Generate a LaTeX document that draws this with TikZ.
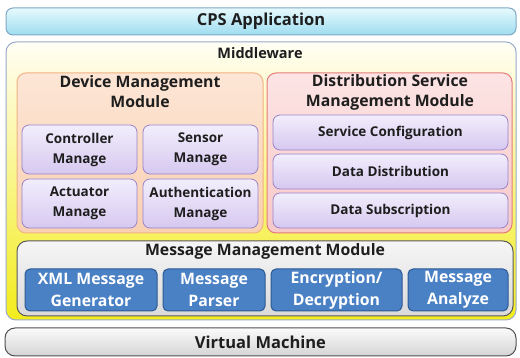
\documentclass[tikz,border=0pt]{standalone}
\usepackage{fontspec}
\setmainfont{Open Sans}
\usetikzlibrary{fit}

\definecolor{txt}{HTML}{1E1E1E}
\definecolor{cpsdraw}{HTML}{7FA8C4}
\definecolor{cpstop}{HTML}{E6F9FD}
\definecolor{cpsbot}{HTML}{9EDDF0}
\definecolor{mwdraw}{HTML}{9AAACA}
\definecolor{mwtop}{HTML}{FFFEF4}
\definecolor{mwbot}{HTML}{F3EC1C}
\definecolor{dmdraw}{HTML}{F0B282}
\definecolor{dmtop}{HTML}{FDE6D6}
\definecolor{dmbot}{HTML}{F9D0B2}
\definecolor{dsdraw}{HTML}{E47C7C}
\definecolor{dstop}{HTML}{FDE4E4}
\definecolor{dsbot}{HTML}{F7C8C8}
\definecolor{subdraw}{HTML}{9A82C8}
\definecolor{subtop}{HTML}{F2EEFC}
\definecolor{subbot}{HTML}{D6C8F0}
\definecolor{mmdraw}{HTML}{5A5A5A}
\definecolor{mmtop}{HTML}{F6F6F6}
\definecolor{mmbot}{HTML}{DADADA}
\definecolor{bludraw}{HTML}{2C5A94}
\definecolor{blufill}{HTML}{4A80C4}
\definecolor{vmdraw}{HTML}{505050}
\definecolor{vmtop}{HTML}{FBFBFB}
\definecolor{vmbot}{HTML}{D4D4D4}

\begin{document}
\begin{tikzpicture}[x=1pt,y=-1pt, text=txt,
  rbox/.style={rounded corners=7pt, line width=1pt, inner sep=0pt, align=center},
  cpsbox/.style={rbox, draw=cpsdraw, top color=cpstop, bottom color=cpsbot},
  mwbox/.style={rbox, rounded corners=10pt, draw=mwdraw, top color=mwtop, bottom color=mwbot},
  dmbox/.style={rbox, rounded corners=9pt, draw=dmdraw, top color=dmtop, bottom color=dmbot},
  dsbox/.style={rbox, rounded corners=9pt, draw=dsdraw, top color=dstop, bottom color=dsbot},
  subbox/.style={rbox, draw=subdraw, line width=0.8pt, top color=subtop, bottom color=subbot},
  mmbox/.style={rbox, rounded corners=10pt, draw=mmdraw, top color=mmtop, bottom color=mmbot},
  blubox/.style={rbox, rounded corners=5pt, draw=bludraw, fill=blufill},
  vmbox/.style={rbox, rounded corners=10pt, draw=vmdraw, top color=vmtop, bottom color=vmbot},
  layert/.style={inner sep=0pt, align=center, font=\bfseries\fontsize{16.5}{19}\selectfont},
  mwt/.style={inner sep=0pt, align=center, font=\bfseries\fontsize{14.5}{20}\selectfont},
  modt/.style={inner sep=0pt, align=center, font=\bfseries\fontsize{15.8}{20}\selectfont},
  subt/.style={inner sep=0pt, align=center, font=\bfseries\fontsize{13.5}{20}\selectfont},
  blut/.style={inner sep=0pt, align=center, text=white, font=\bfseries\fontsize{15.8}{22}\selectfont}
]
\useasboundingbox (0,0) rectangle (520,358);

% top application layer
\node[cpsbox, fit={(6,8) (516,35)}] (cps) {};
\node[layert] (cpst) at (cps.center) {CPS Application};

% middleware container
\node[mwbox, fit={(6,42) (516,320)}] (mw) {};
\node[mwt] (mwtitle) at (260,53) {Middleware};

% device management module
\node[dmbox, fit={(17,73) (263,233)}] (dm) {};
\node[modt] (dmt) at (140,92) {Device Management\\Module};
\node[subbox, fit={(22,125) (137,174)}] (ctl) {};
\node[subt] at (ctl.center) {Controller\\Manage};
\node[subbox, fit={(143,125) (258,174)}] (sen) {};
\node[subt] at (sen.center) {Sensor\\Manage};
\node[subbox, fit={(22,179) (137,228)}] (act) {};
\node[subt] at (act.center) {Actuator\\Manage};
\node[subbox, fit={(143,179) (258,228)}] (aut) {};
\node[subt] at (aut.center) {Authentication\\Manage};

% distribution service management module
\node[dsbox, fit={(267,73) (512,233)}] (ds) {};
\node[modt] (dst) at (390,92) {Distribution Service\\Management Module};
\node[subbox, fit={(273,115) (508,150)}] (scf) {};
\node[subt] at (scf.center) {Service Configuration};
\node[subbox, fit={(273,154) (508,189)}] (ddi) {};
\node[subt] at (ddi.center) {Data Distribution};
\node[subbox, fit={(273,193) (508,228)}] (dsu) {};
\node[subt] at (dsu.center) {Data Subscription};

% message management module
\node[mmbox, fit={(17,241) (513,316)}] (mm) {};
\node[modt] (mmt) at (265,251) {Message Management Module};
\node[blubox, fit={(25,269) (157,311)}] (xml) {};
\node[blut] at (xml.center) {XML Message\\Generator};
\node[blubox, fit={(163,269) (265,311)}] (par) {};
\node[blut] at (par.center) {Message\\Parser};
\node[blubox, fit={(271,269) (402,311)}] (enc) {};
\node[blut] at (enc.center) {Encryption/\\Decryption};
\node[blubox, fit={(408,269) (508,311)}] (ana) {};
\node[blut] at (ana.center) {Message\\Analyze};

% bottom runtime layer
\node[vmbox, fit={(5,328) (516,356)}] (vm) {};
\node[layert] (vmt) at (vm.center) {Virtual Machine};
\end{tikzpicture}
\end{document}
